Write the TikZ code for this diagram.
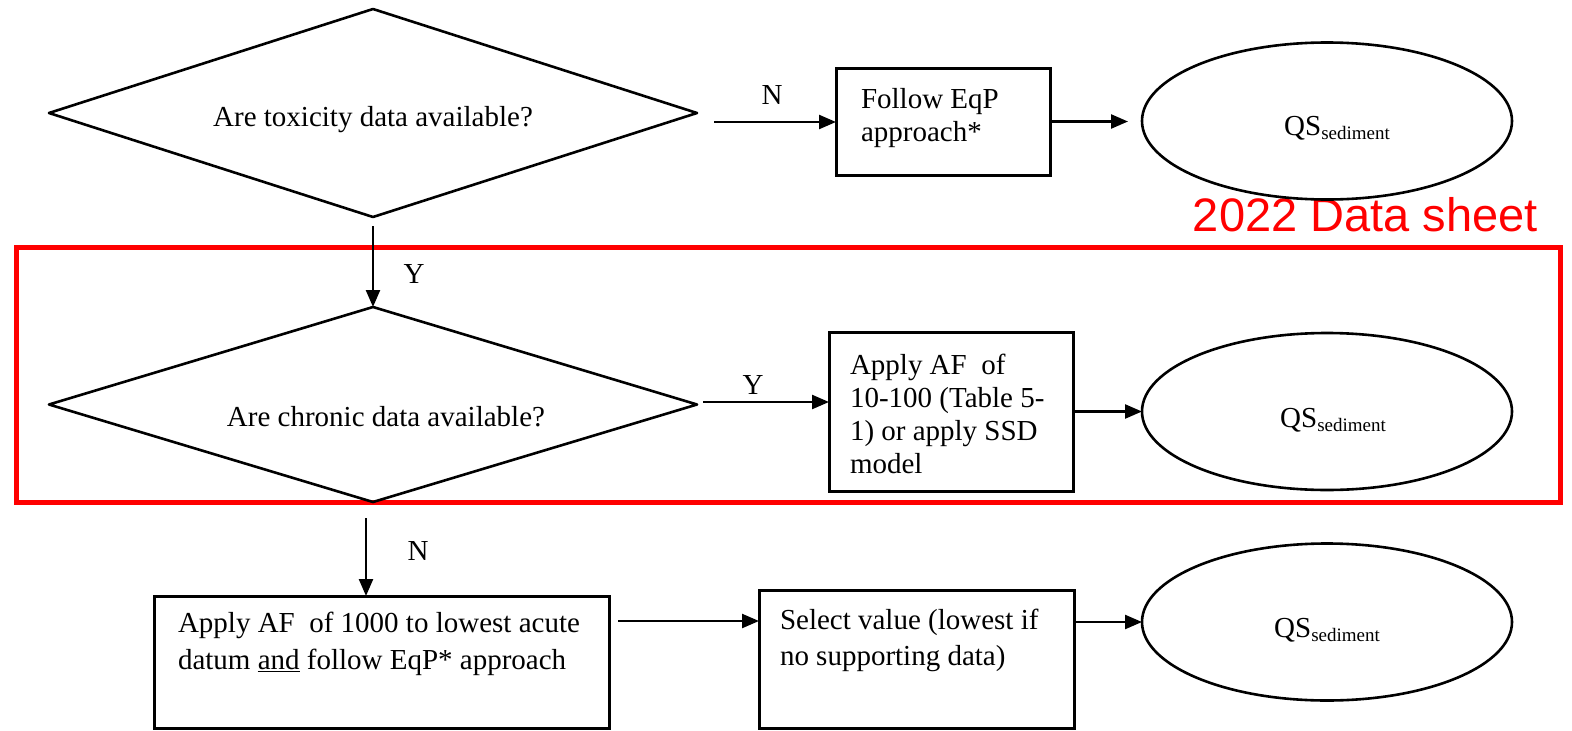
\documentclass[tikz,border=0pt]{standalone}
\usepackage{fontspec}
\setmainfont{Liberation Serif}
\newfontfamily\redfont{Liberation Sans}
\usetikzlibrary{shapes.geometric,arrows.meta}
\definecolor{hl}{RGB}{255,0,0}
\newcommand{\boxtxt}[6]{\parbox[c][#2][t]{#1}{\fontsize{29}{#5}\selectfont\vspace*{#3}\raggedright\leftskip=#4\relax #6}}
\newcommand{\qssed}{QS{\fontsize{19}{19}\selectfont\raisebox{-4pt}{sediment}}}
\begin{document}
\begin{tikzpicture}[x=1pt,y=-1pt,
  lbl/.style={font=\fontsize{29}{33}\selectfont, inner sep=0pt},
  dia/.style={diamond, draw, line width=2.6pt, line join=round, aspect=3.2, inner sep=0pt, outer sep=0pt, minimum width=648pt, font=\fontsize{29}{33}\selectfont, text depth=0pt},
  bx/.style={rectangle, draw, line width=3pt, inner sep=0pt, outer sep=0pt},
  ell/.style={ellipse, draw, line width=2.6pt, inner sep=0pt, outer sep=0pt, minimum width=370pt, minimum height=157pt, font=\fontsize{29}{33}\selectfont, text depth=0pt},
  arr/.style={line width=2.4pt, -{Triangle[length=17pt,width=14pt]}}]

\fill[white] (0,0) rectangle (1572,731);
\useasboundingbox (0,0) rectangle (1572,731);

% highlight frame and caption
\draw[hl, line width=5pt] (16,247) rectangle (1560,502);
\node[anchor=base east, text=hl, font=\redfont\fontsize{47}{50}\selectfont, inner sep=0pt] (ds) at (1538,231) {2022 Data sheet};

% decisions
\node[dia, minimum height=208pt, text height=26pt] (d1) at (373,113) {Are toxicity data available?};
\node[dia, minimum height=195pt, text height=44pt] (d2) at (373,404.5) {\hspace*{26pt}Are chronic data available?};

% boxes
\node[bx] (b1) at (943,121.5) {\boxtxt{214pt}{107pt}{20pt}{25pt}{33pt}{Follow EqP\\approach*}};
\node[bx] (b2) at (951,411.5) {\boxtxt{244pt}{159pt}{22pt}{21pt}{33pt}{Apply AF~ of\\10-100 (Table 5-\\1) or apply SSD\\model}};
\node[bx] (b3) at (381.5,662) {\boxtxt{455pt}{132pt}{16pt}{24pt}{37pt}{Apply AF~ of 1000 to lowest acute\\datum \underline{and} follow EqP* approach}};
\node[bx] (b4) at (916.5,659) {\boxtxt{315pt}{138pt}{19pt}{21pt}{36pt}{Select value (lowest if\\no supporting data)}};

% results
\node[ell, text height=28pt] (e1) at (1327,121) {\hspace*{20pt}\qssed};
\node[ell, text height=31pt] (e2) at (1327,411.5) {\hspace*{12pt}\qssed};
\node[ell, text height=30pt] (e3) at (1327,622) {\qssed};

% labels
\node[lbl] (n1) at (772,95) {N};
\node[lbl] (y1) at (414,274) {Y};
\node[lbl] (y2) at (753,385) {Y};
\node[lbl] (n2) at (418,551) {N};

% connectors
\coordinate (c1) at (714,122);
\draw[arr] (c1) -- (c1 -| b1.west);
\draw[arr, shorten >=14pt] (b1.east) -- (b1.east -| e1.west);
\draw[arr, shorten <=9pt] (d1.south) -- (d2.north);
\coordinate (c2) at (703,402);
\draw[arr] (c2) -- (c2 -| b2.west);
\draw[arr] (b2.east) -- (b2.east -| e2.west);
\coordinate (c3) at (366,518);
\draw[arr] (c3) -- (c3 |- b3.north);
\coordinate (c4) at (618,621);
\draw[arr] (c4) -- (c4 -| b4.west);
\draw[arr] (b4.east |- e3.west) -- (e3.west);
\end{tikzpicture}
\end{document}
